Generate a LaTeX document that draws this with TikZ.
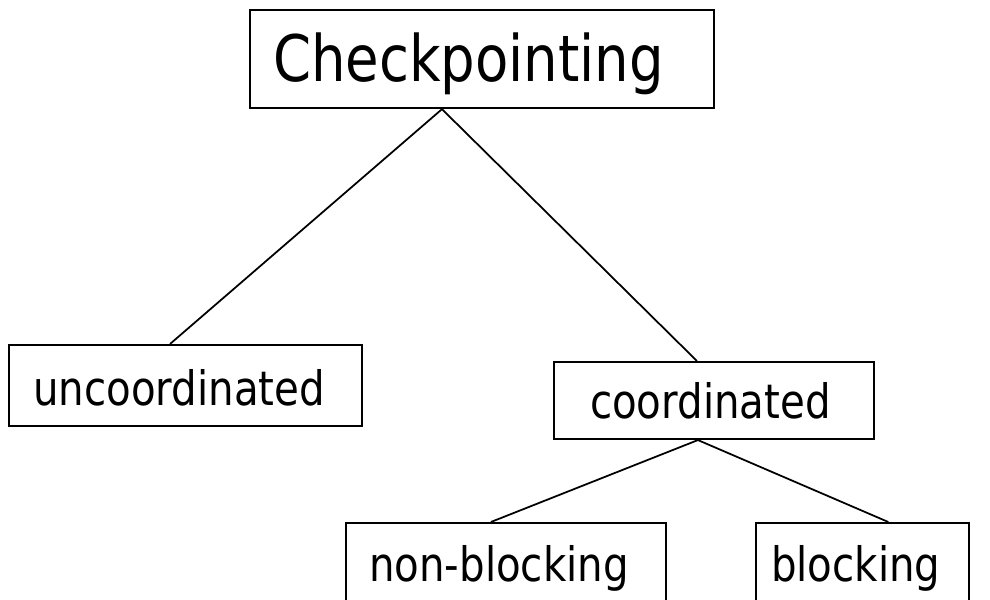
\documentclass[tikz,border=0pt]{standalone}
\usepackage{fontspec}
\setmainfont{DejaVu Sans}[FakeStretch=0.85]
\usetikzlibrary{calc}

\tikzset{
  box/.style={draw=black, line width=1.2pt, rectangle, anchor=north west,
    inner ysep=0pt, align=left, text depth=0pt, font=\fontsize{27}{31}\selectfont},
  bigbox/.style={box, font=\fontsize{36.5}{42}\selectfont},
  edge/.style={draw=black, line width=1pt}
}

\begin{document}
\begin{tikzpicture}[x=0.02cm, y=-0.02cm]
  \useasboundingbox (0,0) rectangle (990,599);
  \clip (0,0) rectangle (990,599);
  \fill[white] (0,0) rectangle (990,599);

  % boxes (positions in pixel units, y pointing down)
  \node[bigbox, minimum width=264pt, minimum height=55.8pt, inner xsep=13.1pt,
        text width=237.9pt, text height=25pt] (ck) at (249,9) {Checkpointing};
  \node[box, minimum width=200.9pt, minimum height=46.1pt, inner xsep=13.7pt,
        text width=173.6pt, text height=22.2pt] (un) at (8,344) {uncoordinated};
  \node[box, minimum width=182.1pt, minimum height=43.8pt, inner xsep=20.5pt,
        text width=141.1pt, text height=21pt] (co) at (553,361) {coordinated};
  \node[box, minimum width=182.1pt, minimum height=45pt, inner xsep=13.1pt,
        text width=155.9pt, text height=21pt] (nb) at (345,522) {non-blocking};
  \node[box, minimum width=121.2pt, minimum height=45pt, inner xsep=8.5pt,
        text width=104.1pt, text height=21pt] (bl) at (755,522) {blocking};

  % tree connectors
  \draw[edge] ($(ck.south west)!0.414!(ck.south east)$) -- ($(un.north west)!0.456!(un.north east)$);
  \draw[edge] ($(ck.south west)!0.414!(ck.south east)$) -- ($(co.north west)!0.447!(co.north east)$);
  \draw[edge] ($(co.south west)!0.45!(co.south east)$) -- ($(nb.north west)!0.453!(nb.north east)$);
  \draw[edge] ($(co.south west)!0.45!(co.south east)$) -- ($(bl.north west)!0.62!(bl.north east)$);
\end{tikzpicture}
\end{document}
